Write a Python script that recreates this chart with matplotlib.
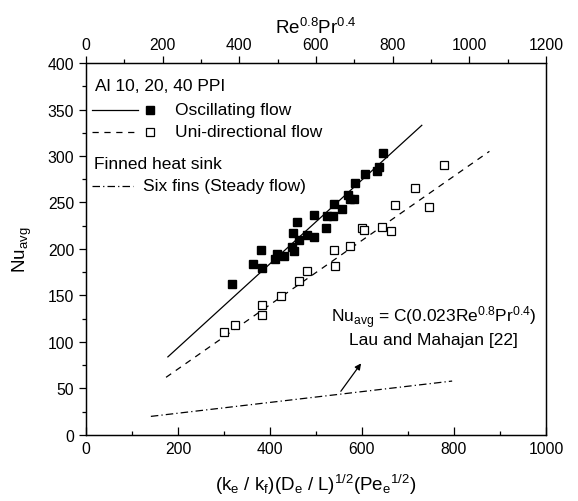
import numpy as np
import matplotlib
matplotlib.use("Agg")
import matplotlib.pyplot as plt
from matplotlib.ticker import MultipleLocator
from matplotlib.lines import Line2D

plt.rcParams['font.family'] = ['Liberation Sans', 'DejaVu Sans']
plt.rcParams['mathtext.default'] = 'regular'

# Al foam, oscillating flow (filled squares)
osc_x = [317, 362, 380, 382, 411, 416, 431, 447, 449, 453, 459, 464, 481, 495,
         496, 522, 525, 537, 540, 557, 570, 574, 583, 585, 607, 632, 638, 645]
osc_y = [162, 184, 199, 180, 189, 195, 192, 202, 217, 198, 229, 210, 215, 237,
         213, 223, 236, 236, 248, 243, 258, 254, 254, 271, 281, 284, 288, 303]

# Al foam, uni-directional flow (open squares)
uni_x = [299, 324, 382, 382, 425, 463, 480, 540, 541, 575, 599, 604, 643, 662,
         672, 715, 746, 778]
uni_y = [111, 118, 129, 140, 149, 166, 176, 199, 182, 203, 223, 220, 224, 219,
         247, 266, 245, 290]

# correlation lines (end points)
osc_fit_x = [178, 730]
osc_fit_y = [84, 333]
uni_fit_x = [174, 877]
uni_fit_y = [62, 305]
fin_x = [141, 796]
fin_y = [20, 58]

fig = plt.figure(figsize=(5.78, 5.02), dpi=100)
ax = fig.add_axes([0.1488, 0.1315, 0.7958, 0.741])

ax.plot(osc_fit_x, osc_fit_y, color='k', lw=0.9)
ax.plot(uni_fit_x, uni_fit_y, color='k', lw=0.9, dashes=(5, 4.5))
ax.plot(fin_x, fin_y, color='k', lw=0.9, dashes=(6, 2.5, 1, 2.5))
ax.plot(osc_x, osc_y, 's', color='k', ms=6, mec='k', clip_on=False)
ax.plot(uni_x, uni_y, 's', mfc='white', mec='k', ms=5.5, mew=0.9, clip_on=False)

ax.annotate('', xy=(598, 77), xytext=(554, 47),
            arrowprops=dict(arrowstyle='-|>', color='k', lw=0.9,
                            mutation_scale=9, shrinkA=0, shrinkB=0))
ax.text(755, 127, r'Nu$_{avg}$ = C(0.023Re$^{0.8}$Pr$^{0.4}$)', ha='center',
        va='center', fontsize=12.5)
ax.text(755, 103, 'Lau and Mahajan [22]', ha='center', va='center', fontsize=12.5)

# legend, drawn by hand
tr = ax.transAxes
fs = 12.5
ax.text(0.02, 0.939, 'Al 10, 20, 40 PPI', transform=tr, va='center', fontsize=fs)
ax.add_line(Line2D([0.012, 0.113], [0.874, 0.874], transform=tr, color='k', lw=0.9))
ax.add_line(Line2D([0.139], [0.874], transform=tr, marker='s', color='k', ms=6))
ax.text(0.193, 0.874, 'Oscillating flow', transform=tr, va='center', fontsize=fs)
ax.add_line(Line2D([0.012, 0.113], [0.815, 0.815], transform=tr, color='k', lw=0.9,
                   dashes=(5, 4.5)))
ax.add_line(Line2D([0.139], [0.815], transform=tr, marker='s', mfc='white', mec='k',
                   ms=5.5, mew=0.9))
ax.text(0.193, 0.815, 'Uni-directional flow', transform=tr, va='center', fontsize=fs)
ax.text(0.017, 0.7285, 'Finned heat sink', transform=tr, va='center', fontsize=fs)
ax.add_line(Line2D([0.012, 0.102], [0.670, 0.670], transform=tr, color='k', lw=0.9,
                   dashes=(6, 2.5, 1, 2.5)))
ax.text(0.124, 0.670, 'Six fins (Steady flow)', transform=tr, va='center', fontsize=fs)

ax.set_xlim(0, 1000)
ax.set_ylim(0, 400)
ax.xaxis.set_major_locator(MultipleLocator(200))
ax.xaxis.set_minor_locator(MultipleLocator(100))
ax.yaxis.set_major_locator(MultipleLocator(50))
ax.yaxis.set_minor_locator(MultipleLocator(25))
ax.tick_params(axis='x', which='both', direction='in', top=False, labelsize=11.3, pad=4)
ax.tick_params(axis='x', which='major', length=6, width=0.9)
ax.tick_params(axis='x', which='minor', length=3, width=0.9)
ax.tick_params(axis='y', which='both', direction='out', right=False, labelsize=11.3)
ax.tick_params(axis='y', which='major', length=5, width=0.9)
ax.tick_params(axis='y', which='minor', length=3, width=0.9)
for s in ax.spines.values():
    s.set_linewidth(0.9)

ax.set_xlabel(r'(k$_e$ / k$_f$)(D$_e$ / L)$^{1/2}$(Pe$_e$$^{1/2}$)', fontsize=13.5,
              labelpad=12)
ax.set_ylabel(r'Nu$_{avg}$', fontsize=13.5, labelpad=10)

top = ax.twiny()
top.set_xlim(0, 1200)
top.xaxis.set_major_locator(MultipleLocator(200))
top.xaxis.set_minor_locator(MultipleLocator(100))
top.tick_params(axis='x', which='both', direction='out', labelsize=11.3, pad=3)
top.tick_params(axis='x', which='major', length=5, width=0.9)
top.tick_params(axis='x', which='minor', length=3, width=0.9)
for s in top.spines.values():
    s.set_linewidth(0.9)
top.set_xlabel(r'Re$^{0.8}$Pr$^{0.4}$', fontsize=13.5, labelpad=3)

fig.savefig('out.png', dpi=100)
